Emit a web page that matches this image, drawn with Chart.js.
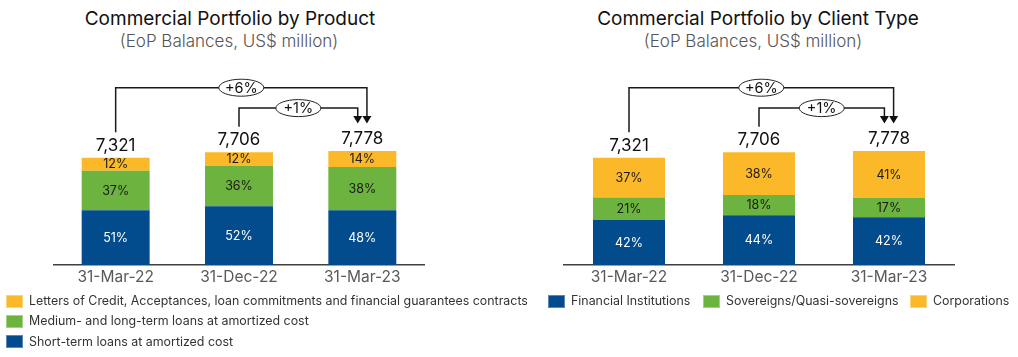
<!DOCTYPE html>
<html><head><meta charset="utf-8">
<script src="https://cdn.jsdelivr.net/npm/chart.js@4.4.0/dist/chart.umd.min.js"></script>
<style>
body{margin:0;background:#fff;width:1018px;height:357px;overflow:hidden;position:relative;font-family:Inter,"Liberation Sans",sans-serif;}
.title{position:absolute;transform:translateX(-50%);white-space:nowrap;font-size:19px;line-height:22px;color:#111;}
.sub{position:absolute;transform:translateX(-50%);white-space:nowrap;font-size:17px;line-height:20px;color:#555;font-weight:300;}
.box{position:absolute;top:0}
.leg{position:absolute;font-size:12.4px;line-height:16px;color:#333;white-space:nowrap;display:flex;align-items:center}
.sw{width:15px;height:11px;margin-right:6px;border:1px solid;box-sizing:content-box}
</style></head><body>
<div class="title" style="left:230px;top:8px">Commercial Portfolio by Product</div>
<div class="sub" style="left:229px;top:31px">(EoP Balances, US$ million)</div>
<div class="title" style="left:758px;top:8px">Commercial Portfolio by Client Type</div>
<div class="sub" style="left:753px;top:31px">(EoP Balances, US$ million)</div>
<div class="box" style="left:0;width:510px;height:357px"><canvas id="c1" width="510" height="357"></canvas></div>
<div class="box" style="left:510px;width:508px;height:357px"><canvas id="c2" width="508" height="357"></canvas></div>
<div id="leg1"></div><div id="leg2"></div>
<script>
// ---- data ----
const categories = ['31-Mar-22', '31-Dec-22', '31-Mar-23'];
const totals = [7321, 7706, 7778];
const productLabels = ['Short-term loans at amortized cost', 'Medium- and long-term loans at amortized cost', 'Letters of Credit, Acceptances, loan commitments and financial guarantees contracts'];
const productShortTerm = [51, 52, 48];
const productMediumLong = [37, 36, 38];
const productLetters = [12, 12, 14];
const clientLabels = ['Financial Institutions', 'Sovereigns/Quasi-sovereigns', 'Corporations'];
const clientFinancial = [42, 44, 42];
const clientSovereign = [21, 18, 17];
const clientCorporate = [37, 38, 41];
const growthLabels = ['+6%', '+1%'];
const growthFrom = [0, 1];
const growthTo = [2, 2];
const yMax = 14000;

// ---- styles ----
const BLUE = '#024B8C', GREEN = '#6DB33F', YELLOW = '#FBB829';
const BORDERS = {[BLUE]:'#5d86b8', [GREEN]:'#a3d083', [YELLOW]:'#fdd37a'};
const FONT = 'Inter, "Liberation Sans", sans-serif';
const growthRise = [63.4, 43];
const growthDx = [4.6, -4.6];

function annotPlugin() {
  return {
    id: 'annot',
    afterDatasetsDraw(chart) {
      const ctx = chart.ctx, xs = chart.scales.x, ys = chart.scales.y;
      ctx.save();
      ctx.textAlign = 'center'; ctx.textBaseline = 'middle';
      chart.data.datasets.forEach((ds, di) => {
        const meta = chart.getDatasetMeta(di);
        meta.data.forEach((el, i) => {
          ctx.fillStyle = ds.labelColor;
          ctx.font = '12.5px ' + FONT;
          ctx.fillText(ds.pct[i] + '%', el.x, (el.y + el.base) / 2 + 0.5);
        });
      });
      totals.forEach((t, i) => {
        ctx.fillStyle = '#111';
        ctx.font = '17px ' + FONT;
        ctx.fillText(t.toLocaleString('en-US'), xs.getPixelForValue(i), ys.getPixelForValue(t) - 12);
      });
      const topMax = ys.getPixelForValue(Math.max(...totals));
      growthLabels.forEach((lab, g) => {
        const x0 = xs.getPixelForValue(growthFrom[g]);
        const x1 = xs.getPixelForValue(growthTo[g]) + growthDx[g];
        const level = topMax - growthRise[g];
        const y0 = ys.getPixelForValue(totals[growthFrom[g]]) - 25.5;
        const tip = ys.getPixelForValue(totals[growthTo[g]]) - 27.5;
        ctx.strokeStyle = '#1a1a1a'; ctx.lineWidth = 1.5;
        ctx.beginPath(); ctx.moveTo(x0, y0); ctx.lineTo(x0, level); ctx.lineTo(x1, level); ctx.lineTo(x1, tip - 6); ctx.stroke();
        ctx.fillStyle = '#111';
        ctx.beginPath(); ctx.moveTo(x1 - 4.5, tip - 7.5); ctx.lineTo(x1 + 4.5, tip - 7.5); ctx.lineTo(x1, tip); ctx.closePath(); ctx.fill();
        const cx = (x0 + x1) / 2;
        ctx.beginPath(); ctx.ellipse(cx, level, 22.5, 8.5, 0, 0, Math.PI * 2);
        ctx.fillStyle = '#fff'; ctx.fill(); ctx.lineWidth = 1; ctx.strokeStyle = '#222'; ctx.stroke();
        ctx.fillStyle = '#111'; ctx.font = '14.5px ' + FONT;
        ctx.fillText(lab, cx, level + 0.5);
      });
      ctx.restore();
    }
  };
}

function ds(label, pct, color, labelColor, barPct) {
  return {
    label, pct, labelColor,
    data: pct.map((p, i) => totals[i] * p / 100),
    backgroundColor: color, borderWidth: 0,
    barPercentage: barPct, categoryPercentage: 1
  };
}

function makeChart(id, datasets, padLeft, padRight) {
  return new Chart(document.getElementById(id), {
    type: 'bar',
    data: { labels: categories, datasets },
    options: {
      responsive: false, animation: false,
      layout: { padding: { left: padLeft, right: padRight, top: 60, bottom: 67 } },
      plugins: { legend: { display: false }, tooltip: { enabled: false }, title: { display: false } },
      scales: {
        x: {
          stacked: true,
          grid: { display: false, drawTicks: false },
          border: { display: true, color: '#404040', width: 1.5 },
          ticks: { color: '#595959', font: { family: FONT, size: 15.5 }, padding: 3 },
          afterFit: (s) => { s.height = 25; }
        },
        y: { stacked: true, display: false, min: 0, max: yMax }
      }
    },
    plugins: [annotPlugin()]
  });
}

makeChart('c1', [
  ds(productLabels[0], productShortTerm, BLUE, '#fff', 0.551),
  ds(productLabels[1], productMediumLong, GREEN, '#1a1a1a', 0.551),
  ds(productLabels[2], productLetters, YELLOW, '#1a1a1a', 0.551)
], 54, 86);

makeChart('c2', [
  ds(clientLabels[0], clientFinancial, BLUE, '#fff', 0.554),
  ds(clientLabels[1], clientSovereign, GREEN, '#1a1a1a', 0.554),
  ds(clientLabels[2], clientCorporate, YELLOW, '#1a1a1a', 0.554)
], 54, 64);

// ---- legends ----
function legItem(text, color, left, top) {
  const d = document.createElement('div');
  d.className = 'leg';
  d.style.left = left + 'px'; d.style.top = top + 'px';
  d.innerHTML = '<span class="sw" style="background:' + color + ';border-color:' + BORDERS[color] + '"></span><span>' + text + '</span>';
  document.body.appendChild(d);
}
const leftColors = [BLUE, GREEN, YELLOW];
[2, 1, 0].forEach((k, row) => legItem(productLabels[k], leftColors[k], 6, 293 + row * 20.3));
const rightLefts = [548, 703, 910];
[0, 1, 2].forEach(k => legItem(clientLabels[k], leftColors[k], rightLefts[k], 293));
</script>
</body></html>
